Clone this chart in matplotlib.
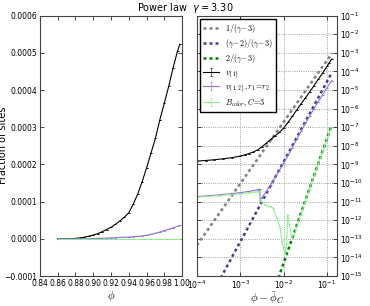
import matplotlib
matplotlib.use("Agg")
import matplotlib.pyplot as plt
import numpy as np
from matplotlib.ticker import FixedLocator, FuncFormatter, NullLocator

# left panel: fraction of sites vs phi
phi = [0.860, 0.865, 0.870, 0.875, 0.880, 0.885, 0.890, 0.895, 0.900, 0.905,
       0.910, 0.915, 0.920, 0.925, 0.930, 0.935, 0.940, 0.945, 0.950, 0.955,
       0.960, 0.965, 0.970, 0.975, 0.980, 0.985, 0.990, 0.995, 0.9975]
v1 = [0.0, 0.0, 0.0000001, 0.0000004, 0.000001, 0.0000025, 0.0000045, 0.000007,
      0.00001, 0.000014, 0.000019, 0.000025, 0.000031, 0.000039, 0.000048,
      0.000058, 0.00007, 0.000093, 0.00012, 0.000153, 0.00019, 0.00023, 0.00027,
      0.00032, 0.000364, 0.00041, 0.00046, 0.000506, 0.000523]
v12 = [0.0, 0.0, 0.0, 0.0, 0.00000005, 0.0000001, 0.0000002, 0.0000004,
       0.0000006, 0.0000009, 0.0000013, 0.0000018, 0.0000024, 0.0000030,
       0.0000036, 0.0000042, 0.0000048, 0.0000056, 0.0000066, 0.0000078,
       0.0000095, 0.000012, 0.000015, 0.0000183, 0.000022, 0.0000255,
       0.0000295, 0.0000335, 0.0000358]
b_color = [0.0] * len(phi)

# right panel: log10 of (phi - phi_C) and of the fractions
bk_logx = [-4.0, -3.8, -3.6, -3.4, -3.2, -3.0, -2.9, -2.8, -2.7, -2.6, -2.5,
           -2.4, -2.3, -2.2, -2.1, -2.0, -1.9, -1.8, -1.7, -1.6, -1.5, -1.4,
           -1.3, -1.2, -1.1, -1.0, -0.95, -0.89]
bk_logy = [-8.82, -8.79, -8.75, -8.70, -8.64, -8.55, -8.49, -8.42, -8.33,
           -8.22, -8.05, -7.86, -7.66, -7.47, -7.28, -7.05, -6.74, -6.41,
           -6.08, -5.75, -5.43, -5.10, -4.76, -4.42, -4.08, -3.72, -3.54, -3.33]

bl_logx = [-4.0, -3.5, -3.0, -2.8, -2.6, -2.55, -2.54, -2.5, -2.4, -2.3, -2.2,
           -2.1, -2.0, -1.9, -1.8, -1.7, -1.6, -1.5, -1.4, -1.3, -1.2, -1.1,
           -1.0, -0.89]
bl_logy = [-10.73, -10.64, -10.52, -10.45, -10.36, -10.33, -10.90, -10.78,
           -10.45, -10.10, -9.70, -9.33, -8.93, -8.52, -8.10, -7.65, -7.22,
           -6.80, -6.40, -6.00, -5.62, -5.25, -4.87, -4.49]

gr_logx = [-4.0, -3.5, -3.0, -2.8, -2.6, -2.55, -2.54, -2.5, -2.43, -2.3,
           -2.24, -2.16, -2.08, -2.04, -1.97, -1.93, -1.91, -1.87, -1.82,
           -1.77, -1.72, -1.6, -1.5, -1.4, -1.3, -1.2, -1.1, -1.0, -0.9]
gr_logy = [-10.76, -10.68, -10.58, -10.52, -10.47, -10.45, -10.95, -11.0,
           -11.18, -11.28, -11.35, -11.89, -12.42, -13.14, -13.8, -13.3,
           -11.7, -12.2, -12.9, -12.8, -12.5, -11.7, -11.0, -10.3, -9.62,
           -8.95, -8.3, -7.6, -7.0]

# theory slopes, endpoints
fit1_logx, fit1_logy = [-4.0, -0.889], [-13.35, -3.03]
fit2_logx, fit2_logy = [-3.45, -0.905], [-15.1, -4.13]
fit3_logx, fit3_logy = [-2.12, -0.905], [-15.1, -6.95]

fig = plt.figure(figsize=(3.7, 3.06), dpi=100)
ax1 = fig.add_axes([0.108, 0.098, 0.384, 0.851])
ax2 = fig.add_axes([0.532, 0.098, 0.379, 0.851])

tick_fs = 5.5
cm = {"math_fontfamily": "cm"}
eb = dict(yerr=0, lw=0.8, capsize=0.9, elinewidth=0.4, capthick=0.5)

# left
ax1.errorbar(phi, v1, color="black", **eb)
ax1.errorbar(phi, v12, color="mediumpurple", **eb)
ax1.errorbar(phi, b_color, color="lightgreen", **eb)
ax1.set_xlim(0.84, 1.0)
ax1.set_ylim(-0.0001, 0.0006)
ax1.xaxis.set_major_locator(FixedLocator([0.84 + 0.02 * i for i in range(9)]))
ax1.xaxis.set_major_formatter(FuncFormatter(lambda v, p: "%.2f" % v))
ax1.yaxis.set_major_locator(FixedLocator([-0.0001 + 0.0001 * i for i in range(8)]))
ax1.yaxis.set_major_formatter(
    FuncFormatter(lambda v, p: ("%.4f" % (round(v, 6) + 0.0)).replace("-", "\u2212")))
ax1.tick_params(direction="in", top=True, right=True, labelsize=tick_fs, length=3,
                width=0.5, pad=2)
ax1.set_xlabel(r"$\phi$", fontsize=8, math_fontfamily="cm", labelpad=1)
ax1.set_ylabel("Fraction of sites", fontsize=7)
ax1.yaxis.set_label_coords(-0.225, 0.5)

# right
dash = dict(lw=1.8, dashes=(1.2, 1.2))
ax2.plot(10.0 ** np.array(fit1_logx), 10.0 ** np.array(fit1_logy), color="gray",
         label=r"$1/(\gamma\!-\!3)$", **dash)
ax2.plot(10.0 ** np.array(fit2_logx), 10.0 ** np.array(fit2_logy), color="darkslateblue",
         label=r"$(\gamma\!-\!2)/(\gamma\!-\!3)$", **dash)
ax2.plot(10.0 ** np.array(fit3_logx), 10.0 ** np.array(fit3_logy), color="green",
         label=r"$2/(\gamma\!-\!3)$", **dash)
ax2.errorbar(10.0 ** np.array(bk_logx), 10.0 ** np.array(bk_logy), color="black",
             label=r"$v_{\{1\}}$", **eb)
ax2.errorbar(10.0 ** np.array(bl_logx), 10.0 ** np.array(bl_logy), color="mediumpurple",
             label=r"$v_{\{1,2\}}, r_1\!=\!r_2$", **eb)
ax2.errorbar(10.0 ** np.array(gr_logx), 10.0 ** np.array(gr_logy), color="lightgreen",
             label=r"$B_{color}, C\!=\!3$", **eb)
ax2.set_xscale("log")
ax2.set_yscale("log")
ax2.set_xlim(1e-4, 0.17)
ax2.set_ylim(1e-15, 1e-1)
ax2.yaxis.set_major_locator(FixedLocator([10.0 ** k for k in range(-15, 0)]))
ax2.xaxis.set_major_locator(FixedLocator([10.0 ** k for k in range(-4, 0)]))
ax2.xaxis.set_minor_locator(NullLocator())
ax2.yaxis.set_minor_locator(NullLocator())
ax2.tick_params(direction="in", top=True, left=True, right=True, labelleft=False,
                labelright=True, labelsize=tick_fs, length=3, width=0.5, pad=2)
ax2.grid(True, ls=":", color="gray", lw=0.6)
ax2.set_xlabel(r"$\phi - \bar{\phi}_C$", fontsize=8, math_fontfamily="cm", labelpad=-1)
ax2.legend(loc="upper left", prop={"size": 5.8, **cm}, fancybox=False,
           edgecolor="black", framealpha=1, handlelength=2.0, borderaxespad=0.4,
           labelspacing=0.32, borderpad=0.4, handletextpad=0.7)

for ax in (ax1, ax2):
    for s in ax.spines.values():
        s.set_linewidth(0.8)
        s.set_color("#444444")

fig.text(0.5, 0.95, r"Power law  $\gamma = 3.30$", ha="center", va="bottom", fontsize=7)

fig.savefig("out.png", dpi=100)
